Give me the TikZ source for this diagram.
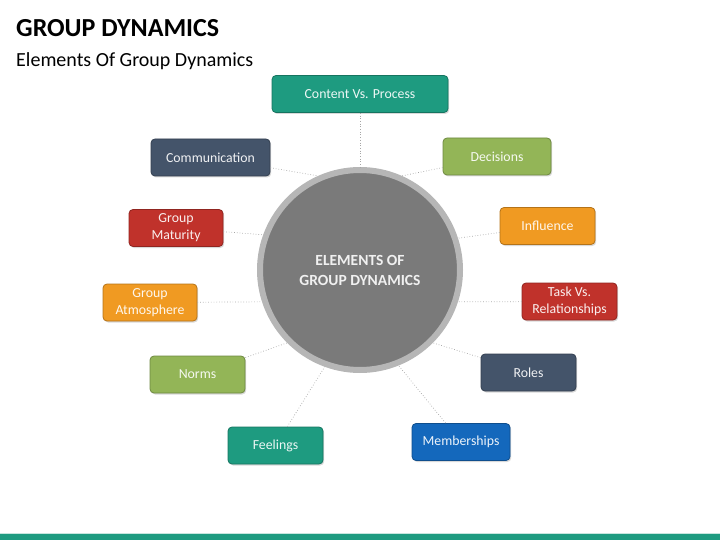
\documentclass[tikz,border=0pt]{standalone}
\usepackage{fontspec}
\setmainfont{Carlito}
\usetikzlibrary{shadows}

\definecolor{gdteal}{HTML}{1E9B80}
\definecolor{gdslate}{HTML}{44546A}
\definecolor{gdgreen}{HTML}{93B557}
\definecolor{gdred}{HTML}{C0322B}
\definecolor{gdorange}{HTML}{F09A22}
\definecolor{gdblue}{HTML}{1468BC}
\definecolor{hubgray}{HTML}{7A7A7A}
\definecolor{ringgray}{HTML}{B6B6B6}

\tikzset{
  elem/.style={rectangle, rounded corners=4pt, fill=#1, draw=#1!75!black,
    line width=0.8pt, text=#1!8!white, minimum height=37pt, inner sep=2pt,
    align=center, font=\fontsize{13.8}{17}\selectfont,
    drop shadow={shadow xshift=1.2pt, shadow yshift=-1.5pt, opacity=0.3}},
  link/.style={gray!70, dotted, line width=0.7pt}
}

\begin{document}
\begin{tikzpicture}[x=1pt, y=-1pt]
    \useasboundingbox (0,0) rectangle (720,540);

    % Title
    \node[anchor=base west, inner sep=0pt, font=\fontsize{26}{30}\selectfont\bfseries] (title) at (16,37) {GROUP DYNAMICS};
    \node[anchor=base west, inner sep=0pt, font=\fontsize{20}{24}\selectfont] (subtitle) at (16,67) {Elements Of Group Dynamics};

    % Hub
    \node[circle, fill=hubgray, draw=ringgray, line width=6pt, minimum size=200pt, inner sep=0pt,
          text=white!94!black, align=center, font=\fontsize{15.5}{20}\selectfont\bfseries] (hub) at (360,270)
          {ELEMENTS OF\\GROUP DYNAMICS};

    % Elements
    \foreach \nm/\x/\y/\w/\col/\txt in {
        cont/360/94/176/gdteal/{Content Vs. Process},
        comm/210.5/157.5/119/gdslate/{Communication},
        deci/497/156.5/108/gdgreen/{Decisions},
        gmat/176/228/94/gdred/{Group\\Maturity},
        infl/547.5/226/95/gdorange/{Influence},
        gatm/150/302.5/94/gdorange/{Group\\Atmosphere},
        task/569.5/301.5/95/gdred/{Task Vs.\\Relationships},
        norm/197.5/374.5/95/gdgreen/{Norms},
        role/528.5/372.5/95/gdslate/{Roles},
        feel/275.5/445.5/95/gdteal/{Feelings},
        memb/461/442/98/gdblue/{Memberships}} {
        \node[elem=\col, minimum width=\w pt] (\nm) at (\x,\y) {\txt};
    }

    % Links
    \draw[link] (cont) -- (hub);
    \foreach \nm/\ang in {comm/114, gmat/160, gatm/198, norm/225, feel/250,
                          deci/66, infl/18, task/342, role/315, memb/292} {
        \draw[link] (\nm) -- (hub.\ang);
    }

    % Footer strip
    \fill[gdteal!25] (0,532.5) rectangle (720,534);
    \fill[gdteal] (0,534) rectangle (720,540);
\end{tikzpicture}
\end{document}
